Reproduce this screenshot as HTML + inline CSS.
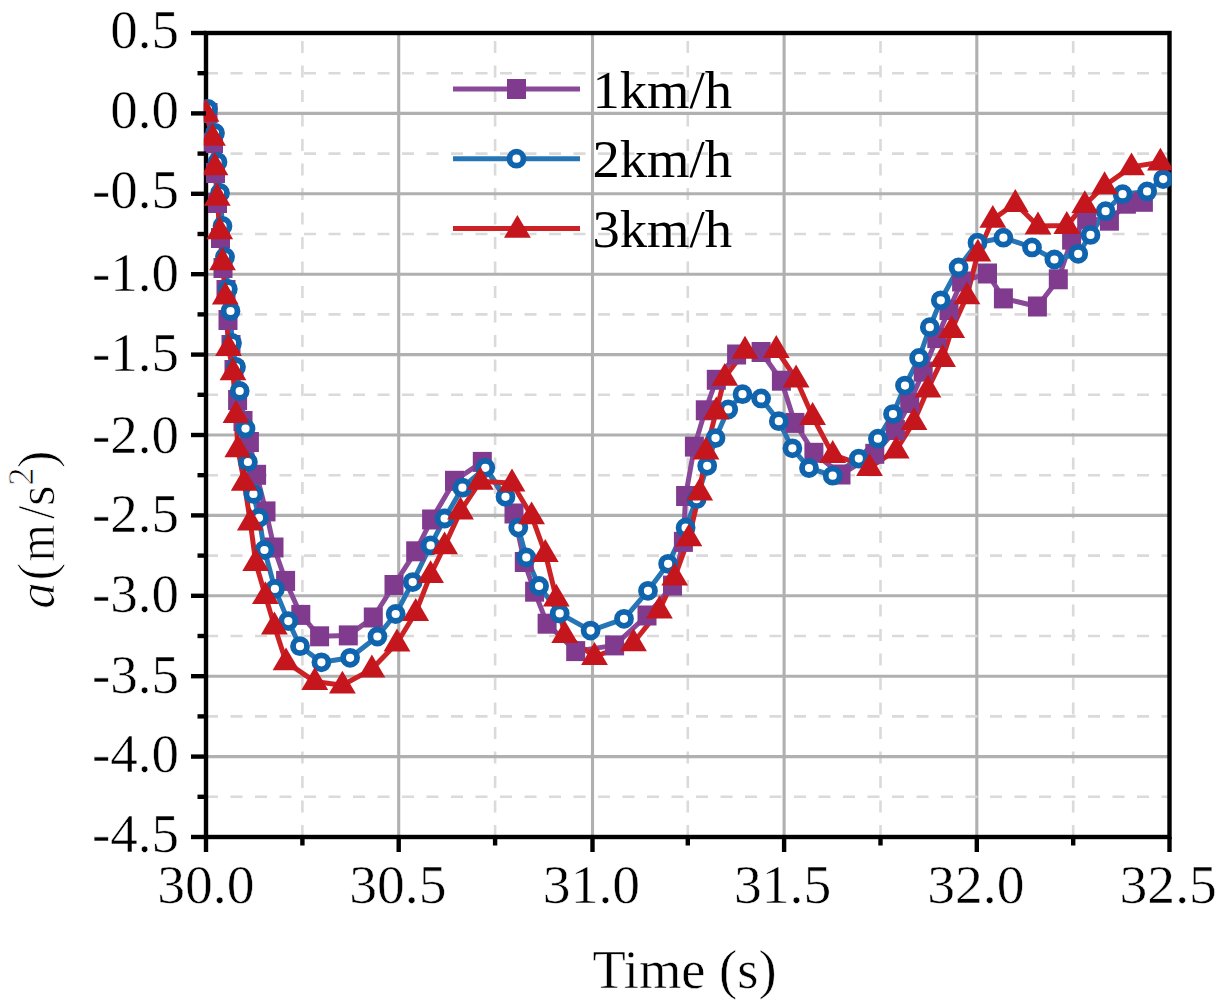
<!DOCTYPE html>
<html><head><meta charset="utf-8"><style>
html,body{margin:0;padding:0;background:#fff;width:1217px;height:1006px;overflow:hidden}
svg{display:block}
#w{width:1217px;height:1006px}
.t{font-family:"Liberation Serif",serif;font-size:52px;fill:#000;stroke:#fff;stroke-width:0.5px;paint-order:fill}
.yt{stroke-width:0.8px}
.lg{stroke:none}
</style></head><body>
<div id="w"><svg width="1217" height="1006" viewBox="0 0 1217 1006">
<line x1="302.4" y1="837.0" x2="302.4" y2="33.0" stroke="#dadada" stroke-width="2.6" stroke-dasharray="12 12.5"/>
<line x1="398.7" y1="33.0" x2="398.7" y2="837.0" stroke="#b0b0b0" stroke-width="3.1"/>
<line x1="495.1" y1="837.0" x2="495.1" y2="33.0" stroke="#dadada" stroke-width="2.6" stroke-dasharray="12 12.5"/>
<line x1="592.5" y1="33.0" x2="592.5" y2="837.0" stroke="#b0b0b0" stroke-width="3.1"/>
<line x1="687.8" y1="837.0" x2="687.8" y2="33.0" stroke="#dadada" stroke-width="2.6" stroke-dasharray="12 12.5"/>
<line x1="784.1" y1="33.0" x2="784.1" y2="837.0" stroke="#b0b0b0" stroke-width="3.1"/>
<line x1="880.5" y1="837.0" x2="880.5" y2="33.0" stroke="#dadada" stroke-width="2.6" stroke-dasharray="12 12.5"/>
<line x1="976.8" y1="33.0" x2="976.8" y2="837.0" stroke="#b0b0b0" stroke-width="3.1"/>
<line x1="1073.2" y1="837.0" x2="1073.2" y2="33.0" stroke="#dadada" stroke-width="2.6" stroke-dasharray="12 12.5"/>
<line x1="206.0" y1="73.2" x2="1169.5" y2="73.2" stroke="#dadada" stroke-width="2.6" stroke-dasharray="12 12.5"/>
<line x1="206.0" y1="113.4" x2="1169.5" y2="113.4" stroke="#b0b0b0" stroke-width="3.1"/>
<line x1="206.0" y1="153.6" x2="1169.5" y2="153.6" stroke="#dadada" stroke-width="2.6" stroke-dasharray="12 12.5"/>
<line x1="206.0" y1="193.8" x2="1169.5" y2="193.8" stroke="#b0b0b0" stroke-width="3.1"/>
<line x1="206.0" y1="234.0" x2="1169.5" y2="234.0" stroke="#dadada" stroke-width="2.6" stroke-dasharray="12 12.5"/>
<line x1="206.0" y1="274.2" x2="1169.5" y2="274.2" stroke="#b0b0b0" stroke-width="3.1"/>
<line x1="206.0" y1="314.4" x2="1169.5" y2="314.4" stroke="#dadada" stroke-width="2.6" stroke-dasharray="12 12.5"/>
<line x1="206.0" y1="354.6" x2="1169.5" y2="354.6" stroke="#b0b0b0" stroke-width="3.1"/>
<line x1="206.0" y1="394.8" x2="1169.5" y2="394.8" stroke="#dadada" stroke-width="2.6" stroke-dasharray="12 12.5"/>
<line x1="206.0" y1="435.0" x2="1169.5" y2="435.0" stroke="#b0b0b0" stroke-width="3.1"/>
<line x1="206.0" y1="475.2" x2="1169.5" y2="475.2" stroke="#dadada" stroke-width="2.6" stroke-dasharray="12 12.5"/>
<line x1="206.0" y1="515.4" x2="1169.5" y2="515.4" stroke="#b0b0b0" stroke-width="3.1"/>
<line x1="206.0" y1="555.6" x2="1169.5" y2="555.6" stroke="#dadada" stroke-width="2.6" stroke-dasharray="12 12.5"/>
<line x1="206.0" y1="595.8" x2="1169.5" y2="595.8" stroke="#b0b0b0" stroke-width="3.1"/>
<line x1="206.0" y1="636.0" x2="1169.5" y2="636.0" stroke="#dadada" stroke-width="2.6" stroke-dasharray="12 12.5"/>
<line x1="206.0" y1="676.2" x2="1169.5" y2="676.2" stroke="#b0b0b0" stroke-width="3.1"/>
<line x1="206.0" y1="716.4" x2="1169.5" y2="716.4" stroke="#dadada" stroke-width="2.6" stroke-dasharray="12 12.5"/>
<line x1="206.0" y1="756.6" x2="1169.5" y2="756.6" stroke="#b0b0b0" stroke-width="3.1"/>
<line x1="206.0" y1="796.8" x2="1169.5" y2="796.8" stroke="#dadada" stroke-width="2.6" stroke-dasharray="12 12.5"/>
<rect x="206.0" y="33.0" width="963.5" height="804.0" fill="none" stroke="#000" stroke-width="4.4"/>
<clipPath id="cp"><rect x="203.8" y="30.8" width="967.9" height="808.4"/></clipPath>
<g clip-path="url(#cp)">
<polyline points="208.0,113.0 213.5,143.0 215.5,173.0 217.5,203.0 220.5,238.0 223.0,268.0 226.0,290.0 228.0,320.0 231.0,345.0 234.0,370.0 237.6,400.0 243.0,421.0 249.4,442.0 256.6,474.8 266.0,511.4 274.0,547.5 285.6,580.9 300.8,614.9 319.6,636.3 348.3,635.4 373.3,617.5 394.0,585.0 415.7,551.3 431.6,519.5 454.5,480.8 482.3,461.9 514.0,513.5 524.3,562.0 534.6,591.7 547.1,623.7 575.7,651.1 614.6,645.4 647.0,615.5 672.5,585.6 683.4,541.9 685.6,496.0 694.4,446.6 705.3,410.3 716.3,379.8 736.6,354.5 761.1,352.0 781.4,380.7 794.9,422.9 813.9,452.8 841.0,474.5 874.8,453.8 895.4,430.0 909.7,403.0 923.2,371.6 936.8,338.1 949.0,310.0 961.6,281.5 987.5,273.5 1003.4,298.4 1037.4,306.5 1058.3,279.3 1071.6,239.6 1086.7,218.8 1109.4,220.7 1126.4,203.7 1143.4,201.8" fill="none" stroke="#8a4898" stroke-width="5" stroke-linejoin="round"/>
<polyline points="208.0,109.0 215.0,133.0 217.5,162.0 220.0,193.0 222.5,226.0 225.0,257.0 227.8,289.0 230.5,311.0 232.0,343.0 236.0,367.0 239.7,391.0 245.5,428.6 247.9,462.0 253.4,493.9 259.0,517.8 264.4,550.0 274.9,588.9 288.3,621.1 300.0,646.2 321.4,662.3 350.1,657.8 377.4,636.5 395.7,614.0 412.7,582.1 430.6,545.4 444.6,518.5 462.4,487.7 485.3,467.8 505.5,496.8 518.3,527.6 526.3,557.4 539.1,586.0 559.7,613.4 590.6,630.6 624.0,618.8 648.0,590.8 668.1,563.8 685.6,527.7 696.6,499.2 707.2,465.8 715.5,438.1 728.2,409.4 742.5,394.2 761.1,398.4 778.8,421.2 792.4,448.3 809.0,468.0 832.7,475.7 858.8,458.6 877.9,438.7 893.0,414.1 905.0,385.6 919.1,358.0 929.8,327.2 940.8,300.3 958.6,267.5 977.5,242.7 1003.4,237.7 1032.0,247.4 1054.4,259.5 1078.2,253.8 1090.5,234.9 1105.6,211.2 1122.6,194.2 1147.1,191.4 1163.2,179.1" fill="none" stroke="#2676b6" stroke-width="5" stroke-linejoin="round"/>
<polyline points="206.0,113.4 212.5,137.4 215.0,166.8 217.3,197.4 219.7,230.8 222.5,261.8 225.3,296.0 228.5,347.5 233.0,371.8 236.0,414.5 237.8,448.9 244.2,482.3 250.3,522.0 255.7,562.6 265.4,595.7 274.4,626.1 286.0,661.9 314.8,681.6 342.4,685.2 371.9,669.1 397.0,643.0 415.7,612.5 430.6,574.7 444.6,545.9 460.5,511.1 480.3,481.3 512.0,483.0 531.6,515.9 545.3,553.6 556.3,598.2 564.7,634.7 594.5,656.5 633.5,642.8 659.4,610.1 674.7,577.2 688.9,537.9 699.7,492.0 706.0,451.0 716.3,411.1 724.8,377.4 745.0,350.3 776.3,349.5 796.1,379.0 812.6,416.5 832.7,454.6 869.5,467.7 896.2,450.2 914.0,421.6 928.0,389.0 942.6,358.6 951.7,329.7 967.0,295.9 977.9,253.2 992.8,219.4 1015.3,203.5 1038.0,226.0 1066.8,225.5 1084.8,204.7 1104.6,185.8 1131.5,166.9 1160.4,162.2" fill="none" stroke="#cc2226" stroke-width="5" stroke-linejoin="round"/>
<rect x="198.5" y="103.0" width="19" height="20" fill="#803a8e"/>
<rect x="204.0" y="133.0" width="19" height="20" fill="#803a8e"/>
<rect x="206.0" y="163.0" width="19" height="20" fill="#803a8e"/>
<rect x="208.0" y="193.0" width="19" height="20" fill="#803a8e"/>
<rect x="211.0" y="228.0" width="19" height="20" fill="#803a8e"/>
<rect x="213.5" y="258.0" width="19" height="20" fill="#803a8e"/>
<rect x="216.5" y="280.0" width="19" height="20" fill="#803a8e"/>
<rect x="218.5" y="310.0" width="19" height="20" fill="#803a8e"/>
<rect x="221.5" y="335.0" width="19" height="20" fill="#803a8e"/>
<rect x="224.5" y="360.0" width="19" height="20" fill="#803a8e"/>
<rect x="228.1" y="390.0" width="19" height="20" fill="#803a8e"/>
<rect x="233.5" y="411.0" width="19" height="20" fill="#803a8e"/>
<rect x="239.9" y="432.0" width="19" height="20" fill="#803a8e"/>
<rect x="247.1" y="464.8" width="19" height="20" fill="#803a8e"/>
<rect x="256.5" y="501.4" width="19" height="20" fill="#803a8e"/>
<rect x="264.5" y="537.5" width="19" height="20" fill="#803a8e"/>
<rect x="276.1" y="570.9" width="19" height="20" fill="#803a8e"/>
<rect x="291.3" y="604.9" width="19" height="20" fill="#803a8e"/>
<rect x="310.1" y="626.3" width="19" height="20" fill="#803a8e"/>
<rect x="338.8" y="625.4" width="19" height="20" fill="#803a8e"/>
<rect x="363.8" y="607.5" width="19" height="20" fill="#803a8e"/>
<rect x="384.5" y="575.0" width="19" height="20" fill="#803a8e"/>
<rect x="406.2" y="541.3" width="19" height="20" fill="#803a8e"/>
<rect x="422.1" y="509.5" width="19" height="20" fill="#803a8e"/>
<rect x="445.0" y="470.8" width="19" height="20" fill="#803a8e"/>
<rect x="472.8" y="451.9" width="19" height="20" fill="#803a8e"/>
<rect x="504.5" y="503.5" width="19" height="20" fill="#803a8e"/>
<rect x="514.8" y="552.0" width="19" height="20" fill="#803a8e"/>
<rect x="525.1" y="581.7" width="19" height="20" fill="#803a8e"/>
<rect x="537.6" y="613.7" width="19" height="20" fill="#803a8e"/>
<rect x="566.2" y="641.1" width="19" height="20" fill="#803a8e"/>
<rect x="605.1" y="635.4" width="19" height="20" fill="#803a8e"/>
<rect x="637.5" y="605.5" width="19" height="20" fill="#803a8e"/>
<rect x="663.0" y="575.6" width="19" height="20" fill="#803a8e"/>
<rect x="673.9" y="531.9" width="19" height="20" fill="#803a8e"/>
<rect x="676.1" y="486.0" width="19" height="20" fill="#803a8e"/>
<rect x="684.9" y="436.6" width="19" height="20" fill="#803a8e"/>
<rect x="695.8" y="400.3" width="19" height="20" fill="#803a8e"/>
<rect x="706.8" y="369.8" width="19" height="20" fill="#803a8e"/>
<rect x="727.1" y="344.5" width="19" height="20" fill="#803a8e"/>
<rect x="751.6" y="342.0" width="19" height="20" fill="#803a8e"/>
<rect x="771.9" y="370.7" width="19" height="20" fill="#803a8e"/>
<rect x="785.4" y="412.9" width="19" height="20" fill="#803a8e"/>
<rect x="804.4" y="442.8" width="19" height="20" fill="#803a8e"/>
<rect x="831.5" y="464.5" width="19" height="20" fill="#803a8e"/>
<rect x="865.3" y="443.8" width="19" height="20" fill="#803a8e"/>
<rect x="885.9" y="420.0" width="19" height="20" fill="#803a8e"/>
<rect x="900.2" y="393.0" width="19" height="20" fill="#803a8e"/>
<rect x="913.7" y="361.6" width="19" height="20" fill="#803a8e"/>
<rect x="927.3" y="328.1" width="19" height="20" fill="#803a8e"/>
<rect x="939.5" y="300.0" width="19" height="20" fill="#803a8e"/>
<rect x="952.1" y="271.5" width="19" height="20" fill="#803a8e"/>
<rect x="978.0" y="263.5" width="19" height="20" fill="#803a8e"/>
<rect x="993.9" y="288.4" width="19" height="20" fill="#803a8e"/>
<rect x="1027.9" y="296.5" width="19" height="20" fill="#803a8e"/>
<rect x="1048.8" y="269.3" width="19" height="20" fill="#803a8e"/>
<rect x="1062.1" y="229.6" width="19" height="20" fill="#803a8e"/>
<rect x="1077.2" y="208.8" width="19" height="20" fill="#803a8e"/>
<rect x="1099.9" y="210.7" width="19" height="20" fill="#803a8e"/>
<rect x="1116.9" y="193.7" width="19" height="20" fill="#803a8e"/>
<rect x="1133.9" y="191.8" width="19" height="20" fill="#803a8e"/>
<circle cx="208.0" cy="109.0" r="7" fill="#fff" stroke="#0f64ad" stroke-width="5.8"/>
<circle cx="215.0" cy="133.0" r="7" fill="#fff" stroke="#0f64ad" stroke-width="5.8"/>
<circle cx="217.5" cy="162.0" r="7" fill="#fff" stroke="#0f64ad" stroke-width="5.8"/>
<circle cx="220.0" cy="193.0" r="7" fill="#fff" stroke="#0f64ad" stroke-width="5.8"/>
<circle cx="222.5" cy="226.0" r="7" fill="#fff" stroke="#0f64ad" stroke-width="5.8"/>
<circle cx="225.0" cy="257.0" r="7" fill="#fff" stroke="#0f64ad" stroke-width="5.8"/>
<circle cx="227.8" cy="289.0" r="7" fill="#fff" stroke="#0f64ad" stroke-width="5.8"/>
<circle cx="230.5" cy="311.0" r="7" fill="#fff" stroke="#0f64ad" stroke-width="5.8"/>
<circle cx="232.0" cy="343.0" r="7" fill="#fff" stroke="#0f64ad" stroke-width="5.8"/>
<circle cx="236.0" cy="367.0" r="7" fill="#fff" stroke="#0f64ad" stroke-width="5.8"/>
<circle cx="239.7" cy="391.0" r="7" fill="#fff" stroke="#0f64ad" stroke-width="5.8"/>
<circle cx="245.5" cy="428.6" r="7" fill="#fff" stroke="#0f64ad" stroke-width="5.8"/>
<circle cx="247.9" cy="462.0" r="7" fill="#fff" stroke="#0f64ad" stroke-width="5.8"/>
<circle cx="253.4" cy="493.9" r="7" fill="#fff" stroke="#0f64ad" stroke-width="5.8"/>
<circle cx="259.0" cy="517.8" r="7" fill="#fff" stroke="#0f64ad" stroke-width="5.8"/>
<circle cx="264.4" cy="550.0" r="7" fill="#fff" stroke="#0f64ad" stroke-width="5.8"/>
<circle cx="274.9" cy="588.9" r="7" fill="#fff" stroke="#0f64ad" stroke-width="5.8"/>
<circle cx="288.3" cy="621.1" r="7" fill="#fff" stroke="#0f64ad" stroke-width="5.8"/>
<circle cx="300.0" cy="646.2" r="7" fill="#fff" stroke="#0f64ad" stroke-width="5.8"/>
<circle cx="321.4" cy="662.3" r="7" fill="#fff" stroke="#0f64ad" stroke-width="5.8"/>
<circle cx="350.1" cy="657.8" r="7" fill="#fff" stroke="#0f64ad" stroke-width="5.8"/>
<circle cx="377.4" cy="636.5" r="7" fill="#fff" stroke="#0f64ad" stroke-width="5.8"/>
<circle cx="395.7" cy="614.0" r="7" fill="#fff" stroke="#0f64ad" stroke-width="5.8"/>
<circle cx="412.7" cy="582.1" r="7" fill="#fff" stroke="#0f64ad" stroke-width="5.8"/>
<circle cx="430.6" cy="545.4" r="7" fill="#fff" stroke="#0f64ad" stroke-width="5.8"/>
<circle cx="444.6" cy="518.5" r="7" fill="#fff" stroke="#0f64ad" stroke-width="5.8"/>
<circle cx="462.4" cy="487.7" r="7" fill="#fff" stroke="#0f64ad" stroke-width="5.8"/>
<circle cx="485.3" cy="467.8" r="7" fill="#fff" stroke="#0f64ad" stroke-width="5.8"/>
<circle cx="505.5" cy="496.8" r="7" fill="#fff" stroke="#0f64ad" stroke-width="5.8"/>
<circle cx="518.3" cy="527.6" r="7" fill="#fff" stroke="#0f64ad" stroke-width="5.8"/>
<circle cx="526.3" cy="557.4" r="7" fill="#fff" stroke="#0f64ad" stroke-width="5.8"/>
<circle cx="539.1" cy="586.0" r="7" fill="#fff" stroke="#0f64ad" stroke-width="5.8"/>
<circle cx="559.7" cy="613.4" r="7" fill="#fff" stroke="#0f64ad" stroke-width="5.8"/>
<circle cx="590.6" cy="630.6" r="7" fill="#fff" stroke="#0f64ad" stroke-width="5.8"/>
<circle cx="624.0" cy="618.8" r="7" fill="#fff" stroke="#0f64ad" stroke-width="5.8"/>
<circle cx="648.0" cy="590.8" r="7" fill="#fff" stroke="#0f64ad" stroke-width="5.8"/>
<circle cx="668.1" cy="563.8" r="7" fill="#fff" stroke="#0f64ad" stroke-width="5.8"/>
<circle cx="685.6" cy="527.7" r="7" fill="#fff" stroke="#0f64ad" stroke-width="5.8"/>
<circle cx="696.6" cy="499.2" r="7" fill="#fff" stroke="#0f64ad" stroke-width="5.8"/>
<circle cx="707.2" cy="465.8" r="7" fill="#fff" stroke="#0f64ad" stroke-width="5.8"/>
<circle cx="715.5" cy="438.1" r="7" fill="#fff" stroke="#0f64ad" stroke-width="5.8"/>
<circle cx="728.2" cy="409.4" r="7" fill="#fff" stroke="#0f64ad" stroke-width="5.8"/>
<circle cx="742.5" cy="394.2" r="7" fill="#fff" stroke="#0f64ad" stroke-width="5.8"/>
<circle cx="761.1" cy="398.4" r="7" fill="#fff" stroke="#0f64ad" stroke-width="5.8"/>
<circle cx="778.8" cy="421.2" r="7" fill="#fff" stroke="#0f64ad" stroke-width="5.8"/>
<circle cx="792.4" cy="448.3" r="7" fill="#fff" stroke="#0f64ad" stroke-width="5.8"/>
<circle cx="809.0" cy="468.0" r="7" fill="#fff" stroke="#0f64ad" stroke-width="5.8"/>
<circle cx="832.7" cy="475.7" r="7" fill="#fff" stroke="#0f64ad" stroke-width="5.8"/>
<circle cx="858.8" cy="458.6" r="7" fill="#fff" stroke="#0f64ad" stroke-width="5.8"/>
<circle cx="877.9" cy="438.7" r="7" fill="#fff" stroke="#0f64ad" stroke-width="5.8"/>
<circle cx="893.0" cy="414.1" r="7" fill="#fff" stroke="#0f64ad" stroke-width="5.8"/>
<circle cx="905.0" cy="385.6" r="7" fill="#fff" stroke="#0f64ad" stroke-width="5.8"/>
<circle cx="919.1" cy="358.0" r="7" fill="#fff" stroke="#0f64ad" stroke-width="5.8"/>
<circle cx="929.8" cy="327.2" r="7" fill="#fff" stroke="#0f64ad" stroke-width="5.8"/>
<circle cx="940.8" cy="300.3" r="7" fill="#fff" stroke="#0f64ad" stroke-width="5.8"/>
<circle cx="958.6" cy="267.5" r="7" fill="#fff" stroke="#0f64ad" stroke-width="5.8"/>
<circle cx="977.5" cy="242.7" r="7" fill="#fff" stroke="#0f64ad" stroke-width="5.8"/>
<circle cx="1003.4" cy="237.7" r="7" fill="#fff" stroke="#0f64ad" stroke-width="5.8"/>
<circle cx="1032.0" cy="247.4" r="7" fill="#fff" stroke="#0f64ad" stroke-width="5.8"/>
<circle cx="1054.4" cy="259.5" r="7" fill="#fff" stroke="#0f64ad" stroke-width="5.8"/>
<circle cx="1078.2" cy="253.8" r="7" fill="#fff" stroke="#0f64ad" stroke-width="5.8"/>
<circle cx="1090.5" cy="234.9" r="7" fill="#fff" stroke="#0f64ad" stroke-width="5.8"/>
<circle cx="1105.6" cy="211.2" r="7" fill="#fff" stroke="#0f64ad" stroke-width="5.8"/>
<circle cx="1122.6" cy="194.2" r="7" fill="#fff" stroke="#0f64ad" stroke-width="5.8"/>
<circle cx="1147.1" cy="191.4" r="7" fill="#fff" stroke="#0f64ad" stroke-width="5.8"/>
<circle cx="1163.2" cy="179.1" r="7" fill="#fff" stroke="#0f64ad" stroke-width="5.8"/>
<path d="M206.0 98.9L219.4 121.8L192.6 121.8Z" fill="#c4161c"/>
<path d="M212.5 122.9L225.9 145.8L199.1 145.8Z" fill="#c4161c"/>
<path d="M215.0 152.3L228.4 175.2L201.6 175.2Z" fill="#c4161c"/>
<path d="M217.3 182.9L230.7 205.8L203.9 205.8Z" fill="#c4161c"/>
<path d="M219.7 216.3L233.1 239.2L206.3 239.2Z" fill="#c4161c"/>
<path d="M222.5 247.3L235.9 270.2L209.1 270.2Z" fill="#c4161c"/>
<path d="M225.3 281.5L238.7 304.4L211.9 304.4Z" fill="#c4161c"/>
<path d="M228.5 333.0L241.9 355.9L215.1 355.9Z" fill="#c4161c"/>
<path d="M233.0 357.3L246.4 380.2L219.6 380.2Z" fill="#c4161c"/>
<path d="M236.0 400.0L249.4 422.9L222.6 422.9Z" fill="#c4161c"/>
<path d="M237.8 434.4L251.2 457.3L224.4 457.3Z" fill="#c4161c"/>
<path d="M244.2 467.8L257.6 490.7L230.8 490.7Z" fill="#c4161c"/>
<path d="M250.3 507.5L263.7 530.4L236.9 530.4Z" fill="#c4161c"/>
<path d="M255.7 548.1L269.1 571.0L242.3 571.0Z" fill="#c4161c"/>
<path d="M265.4 581.2L278.8 604.1L252.0 604.1Z" fill="#c4161c"/>
<path d="M274.4 611.6L287.8 634.5L261.0 634.5Z" fill="#c4161c"/>
<path d="M286.0 647.4L299.4 670.3L272.6 670.3Z" fill="#c4161c"/>
<path d="M314.8 667.1L328.2 690.0L301.4 690.0Z" fill="#c4161c"/>
<path d="M342.4 670.7L355.8 693.6L329.0 693.6Z" fill="#c4161c"/>
<path d="M371.9 654.6L385.3 677.5L358.5 677.5Z" fill="#c4161c"/>
<path d="M397.0 628.5L410.4 651.4L383.6 651.4Z" fill="#c4161c"/>
<path d="M415.7 598.0L429.1 620.9L402.3 620.9Z" fill="#c4161c"/>
<path d="M430.6 560.2L444.0 583.1L417.2 583.1Z" fill="#c4161c"/>
<path d="M444.6 531.4L458.0 554.3L431.2 554.3Z" fill="#c4161c"/>
<path d="M460.5 496.6L473.9 519.5L447.1 519.5Z" fill="#c4161c"/>
<path d="M480.3 466.8L493.7 489.7L466.9 489.7Z" fill="#c4161c"/>
<path d="M512.0 468.5L525.4 491.4L498.6 491.4Z" fill="#c4161c"/>
<path d="M531.6 501.4L545.0 524.3L518.2 524.3Z" fill="#c4161c"/>
<path d="M545.3 539.1L558.7 562.0L531.9 562.0Z" fill="#c4161c"/>
<path d="M556.3 583.7L569.7 606.6L542.9 606.6Z" fill="#c4161c"/>
<path d="M564.7 620.2L578.1 643.1L551.3 643.1Z" fill="#c4161c"/>
<path d="M594.5 642.0L607.9 664.9L581.1 664.9Z" fill="#c4161c"/>
<path d="M633.5 628.3L646.9 651.2L620.1 651.2Z" fill="#c4161c"/>
<path d="M659.4 595.6L672.8 618.5L646.0 618.5Z" fill="#c4161c"/>
<path d="M674.7 562.7L688.1 585.6L661.3 585.6Z" fill="#c4161c"/>
<path d="M688.9 523.4L702.3 546.3L675.5 546.3Z" fill="#c4161c"/>
<path d="M699.7 477.5L713.1 500.4L686.3 500.4Z" fill="#c4161c"/>
<path d="M706.0 436.5L719.4 459.4L692.6 459.4Z" fill="#c4161c"/>
<path d="M716.3 396.6L729.7 419.5L702.9 419.5Z" fill="#c4161c"/>
<path d="M724.8 362.9L738.2 385.8L711.4 385.8Z" fill="#c4161c"/>
<path d="M745.0 335.8L758.4 358.7L731.6 358.7Z" fill="#c4161c"/>
<path d="M776.3 335.0L789.7 357.9L762.9 357.9Z" fill="#c4161c"/>
<path d="M796.1 364.5L809.5 387.4L782.7 387.4Z" fill="#c4161c"/>
<path d="M812.6 402.0L826.0 424.9L799.2 424.9Z" fill="#c4161c"/>
<path d="M832.7 440.1L846.1 463.0L819.3 463.0Z" fill="#c4161c"/>
<path d="M869.5 453.2L882.9 476.1L856.1 476.1Z" fill="#c4161c"/>
<path d="M896.2 435.7L909.6 458.6L882.8 458.6Z" fill="#c4161c"/>
<path d="M914.0 407.1L927.4 430.0L900.6 430.0Z" fill="#c4161c"/>
<path d="M928.0 374.5L941.4 397.4L914.6 397.4Z" fill="#c4161c"/>
<path d="M942.6 344.1L956.0 367.0L929.2 367.0Z" fill="#c4161c"/>
<path d="M951.7 315.2L965.1 338.1L938.3 338.1Z" fill="#c4161c"/>
<path d="M967.0 281.4L980.4 304.3L953.6 304.3Z" fill="#c4161c"/>
<path d="M977.9 238.7L991.3 261.6L964.5 261.6Z" fill="#c4161c"/>
<path d="M992.8 204.9L1006.2 227.8L979.4 227.8Z" fill="#c4161c"/>
<path d="M1015.3 189.0L1028.7 211.9L1001.9 211.9Z" fill="#c4161c"/>
<path d="M1038.0 211.5L1051.4 234.4L1024.6 234.4Z" fill="#c4161c"/>
<path d="M1066.8 211.0L1080.2 233.9L1053.4 233.9Z" fill="#c4161c"/>
<path d="M1084.8 190.2L1098.2 213.1L1071.4 213.1Z" fill="#c4161c"/>
<path d="M1104.6 171.3L1118.0 194.2L1091.2 194.2Z" fill="#c4161c"/>
<path d="M1131.5 152.4L1144.9 175.3L1118.1 175.3Z" fill="#c4161c"/>
<path d="M1160.4 147.7L1173.8 170.6L1147.0 170.6Z" fill="#c4161c"/>
</g>
<line x1="191.0" y1="33.0" x2="206.0" y2="33.0" stroke="#000" stroke-width="4.4"/>
<line x1="197.5" y1="73.2" x2="206.0" y2="73.2" stroke="#000" stroke-width="4.4"/>
<line x1="191.0" y1="113.4" x2="206.0" y2="113.4" stroke="#000" stroke-width="4.4"/>
<line x1="197.5" y1="153.6" x2="206.0" y2="153.6" stroke="#000" stroke-width="4.4"/>
<line x1="191.0" y1="193.8" x2="206.0" y2="193.8" stroke="#000" stroke-width="4.4"/>
<line x1="197.5" y1="234.0" x2="206.0" y2="234.0" stroke="#000" stroke-width="4.4"/>
<line x1="191.0" y1="274.2" x2="206.0" y2="274.2" stroke="#000" stroke-width="4.4"/>
<line x1="197.5" y1="314.4" x2="206.0" y2="314.4" stroke="#000" stroke-width="4.4"/>
<line x1="191.0" y1="354.6" x2="206.0" y2="354.6" stroke="#000" stroke-width="4.4"/>
<line x1="197.5" y1="394.8" x2="206.0" y2="394.8" stroke="#000" stroke-width="4.4"/>
<line x1="191.0" y1="435.0" x2="206.0" y2="435.0" stroke="#000" stroke-width="4.4"/>
<line x1="197.5" y1="475.2" x2="206.0" y2="475.2" stroke="#000" stroke-width="4.4"/>
<line x1="191.0" y1="515.4" x2="206.0" y2="515.4" stroke="#000" stroke-width="4.4"/>
<line x1="197.5" y1="555.6" x2="206.0" y2="555.6" stroke="#000" stroke-width="4.4"/>
<line x1="191.0" y1="595.8" x2="206.0" y2="595.8" stroke="#000" stroke-width="4.4"/>
<line x1="197.5" y1="636.0" x2="206.0" y2="636.0" stroke="#000" stroke-width="4.4"/>
<line x1="191.0" y1="676.2" x2="206.0" y2="676.2" stroke="#000" stroke-width="4.4"/>
<line x1="197.5" y1="716.4" x2="206.0" y2="716.4" stroke="#000" stroke-width="4.4"/>
<line x1="191.0" y1="756.6" x2="206.0" y2="756.6" stroke="#000" stroke-width="4.4"/>
<line x1="197.5" y1="796.8" x2="206.0" y2="796.8" stroke="#000" stroke-width="4.4"/>
<line x1="191.0" y1="837.0" x2="206.0" y2="837.0" stroke="#000" stroke-width="4.4"/>
<line x1="206.0" y1="837.0" x2="206.0" y2="852.0" stroke="#000" stroke-width="4.4"/>
<line x1="302.4" y1="837.0" x2="302.4" y2="845.5" stroke="#000" stroke-width="4.4"/>
<line x1="398.7" y1="837.0" x2="398.7" y2="852.0" stroke="#000" stroke-width="4.4"/>
<line x1="495.1" y1="837.0" x2="495.1" y2="845.5" stroke="#000" stroke-width="4.4"/>
<line x1="592.5" y1="837.0" x2="592.5" y2="852.0" stroke="#000" stroke-width="4.4"/>
<line x1="687.8" y1="837.0" x2="687.8" y2="845.5" stroke="#000" stroke-width="4.4"/>
<line x1="784.1" y1="837.0" x2="784.1" y2="852.0" stroke="#000" stroke-width="4.4"/>
<line x1="880.5" y1="837.0" x2="880.5" y2="845.5" stroke="#000" stroke-width="4.4"/>
<line x1="976.8" y1="837.0" x2="976.8" y2="852.0" stroke="#000" stroke-width="4.4"/>
<line x1="1073.2" y1="837.0" x2="1073.2" y2="845.5" stroke="#000" stroke-width="4.4"/>
<line x1="1169.5" y1="837.0" x2="1169.5" y2="852.0" stroke="#000" stroke-width="4.4"/>
<text transform="translate(179.0 48.0)" text-anchor="end" class="t" style="font-size:55px">0.5</text>
<text transform="translate(179.0 128.3)" text-anchor="end" class="t" style="font-size:55px">0.0</text>
<text transform="translate(179.0 208.2)" text-anchor="end" class="t" style="font-size:55px">-0.5</text>
<text transform="translate(179.0 290.6)" text-anchor="end" class="t" style="font-size:55px">-1.0</text>
<text transform="translate(179.0 370.8)" text-anchor="end" class="t" style="font-size:55px">-1.5</text>
<text transform="translate(179.0 452.8)" text-anchor="end" class="t" style="font-size:55px">-2.0</text>
<text transform="translate(179.0 532.0)" text-anchor="end" class="t" style="font-size:55px">-2.5</text>
<text transform="translate(179.0 611.9)" text-anchor="end" class="t" style="font-size:55px">-3.0</text>
<text transform="translate(179.0 693.3)" text-anchor="end" class="t" style="font-size:55px">-3.5</text>
<text transform="translate(179.0 772.0)" text-anchor="end" class="t" style="font-size:55px">-4.0</text>
<text transform="translate(179.0 852.4)" text-anchor="end" class="t" style="font-size:55px">-4.5</text>
<text transform="translate(205.9 902.8) scale(1.03 1)" text-anchor="middle" class="t" style="font-size:54px">30.0</text>
<text transform="translate(397.9 902.8) scale(1.03 1)" text-anchor="middle" class="t" style="font-size:54px">30.5</text>
<text transform="translate(591.5 902.8) scale(1.03 1)" text-anchor="middle" class="t" style="font-size:54px">31.0</text>
<text transform="translate(782.6 902.8) scale(1.03 1)" text-anchor="middle" class="t" style="font-size:54px">31.5</text>
<text transform="translate(975.9 902.8) scale(1.03 1)" text-anchor="middle" class="t" style="font-size:54px">32.0</text>
<text transform="translate(1168.2 902.8) scale(1.03 1)" text-anchor="middle" class="t" style="font-size:54px">32.5</text>
<text x="684.5" y="987.6" text-anchor="middle" class="t" style="font-size:54.5px">Time (s)</text>
<text transform="translate(53.7 608.7) rotate(-90) scale(1.0 1)" class="t yt" style="font-size:53px;font-style:italic">a</text>
<text transform="translate(53.7 580.6) rotate(-90) scale(1.0 1)" class="t yt" style="font-size:53px;font-style:normal">(</text>
<text transform="translate(53.7 561.5) rotate(-90) scale(0.9 1)" class="t yt" style="font-size:53px;font-style:normal">m</text>
<text transform="translate(53.7 519.1) rotate(-90) scale(0.9 1)" class="t yt" style="font-size:53px;font-style:normal">/</text>
<text transform="translate(53.7 506.1) rotate(-90) scale(1.0 1)" class="t yt" style="font-size:53px;font-style:normal">s</text>
<text transform="translate(33.0 485.5) rotate(-90) scale(1.0 1)" class="t yt" style="font-size:36px;font-style:normal">2</text>
<text transform="translate(53.7 468.2) rotate(-90) scale(1.0 1)" class="t yt" style="font-size:53px;font-style:normal">)</text>
<line x1="453" y1="89" x2="580" y2="89" stroke="#8a4898" stroke-width="5"/>
<rect x="507.0" y="79.0" width="19" height="20" fill="#803a8e"/>
<text transform="translate(592.5 107.5) scale(1.05 1)" class="t lg">1km/h</text>
<line x1="453" y1="158.7" x2="580" y2="158.7" stroke="#2676b6" stroke-width="5"/>
<circle cx="516.5" cy="158.7" r="7" fill="#fff" stroke="#0f64ad" stroke-width="5.8"/>
<text transform="translate(592.5 177.2) scale(1.05 1)" class="t lg">2km/h</text>
<line x1="453" y1="228.4" x2="580" y2="228.4" stroke="#cc2226" stroke-width="5"/>
<path d="M517.4 214.9L530.8 237.8L504.0 237.8Z" fill="#c4161c"/>
<text transform="translate(592.5 246.9) scale(1.05 1)" class="t lg">3km/h</text>
</svg></div></body></html>
